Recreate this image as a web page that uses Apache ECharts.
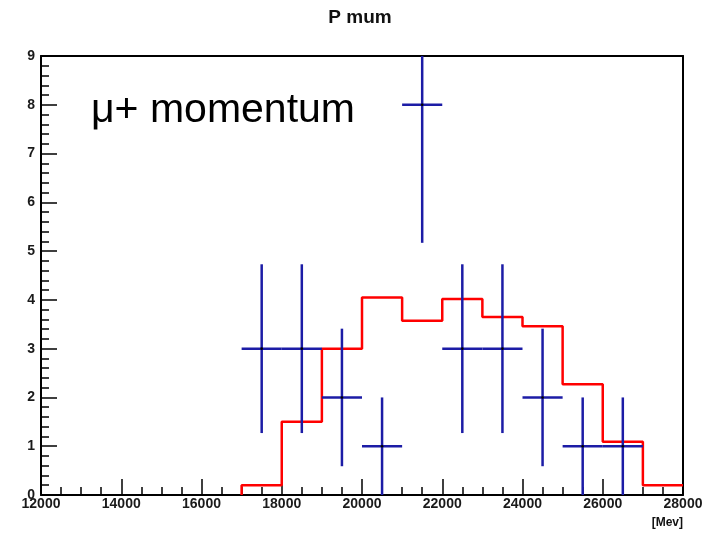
<!DOCTYPE html>
<html>
<head>
<meta charset="utf-8">
<script src="https://cdn.jsdelivr.net/npm/echarts@6/dist/echarts.min.js"></script>
<style>
html,body{margin:0;padding:0;background:#fff;}
#main{width:712px;height:535px;}
</style>
</head>
<body>
<div id="main"></div>
<script>
// ---- data ----
var xTickLabels = [12000, 14000, 16000, 18000, 20000, 22000, 24000, 26000, 28000];
var yTickLabels = [0, 1, 2, 3, 4, 5, 6, 7, 8, 9];

// red histogram (MC), bins of 1000 starting at these low edges
var redBinLow = [17000, 18000, 19000, 20000, 21000, 22000, 23000, 24000, 25000, 26000, 27000];
var redValues = [0.2, 1.5, 3.0, 4.05, 3.57, 4.02, 3.65, 3.46, 2.27, 1.09, 0.2];
var redLastEdge = 28000;

// blue data points
var dataX    = [17500, 18500, 19500, 20500, 21500, 22500, 23500, 24500, 25500, 26500];
var dataY    = [3, 3, 2, 1, 8, 3, 3, 2, 1, 1];
var dataYErr = [1.73, 1.73, 1.41, 1.0, 2.83, 1.73, 1.73, 1.41, 1.0, 1.0];
var dataXErr = [500, 500, 500, 500, 500, 500, 500, 500, 500, 500];

// ---- build ----
var redPoints = [[redBinLow[0], 0]];
for (var i = 0; i < redBinLow.length; i++) redPoints.push([redBinLow[i], redValues[i]]);
redPoints.push([redLastEdge, redValues[redValues.length - 1]]);

var bluePoints = dataX.map(function (x, i) { return [x, dataY[i], dataXErr[i], dataYErr[i]]; });

var BLUE = '#1c1ca6';
var FONT = '"Liberation Sans", Arial, Helvetica, sans-serif';

var chart = echarts.init(document.getElementById('main'), null, {renderer: 'canvas'});
var option = {
  animation: false,
  backgroundColor: '#fff',
  grid: {left: 41, right: 29, top: 56, bottom: 40, containLabel: false},
  xAxis: [{
    type: 'value', min: xTickLabels[0], max: xTickLabels[xTickLabels.length - 1], interval: 2000,
    position: 'bottom',
    axisLine: {show: true, lineStyle: {color: '#000', width: 2}},
    axisTick: {show: true, inside: true, length: 16, lineStyle: {color: '#000', width: 1.5}},
    minorTick: {show: true, splitNumber: 4, length: 8, lineStyle: {color: '#000', width: 1.5}},
    splitLine: {show: false},
    axisLabel: {show: true, margin: 2, color: '#1a1a1a', fontSize: 14, fontWeight: 'bold', fontFamily: FONT,
      formatter: function (v) { return String(v); }}
  }, {
    type: 'value', min: 12000, max: 28000, position: 'top',
    axisLine: {show: true, onZero: false, lineStyle: {color: '#000', width: 2}},
    axisTick: {show: false}, axisLabel: {show: false}, splitLine: {show: false}
  }],
  yAxis: [{
    type: 'value', min: yTickLabels[0], max: yTickLabels[yTickLabels.length - 1], interval: 1,
    position: 'left',
    axisLine: {show: true, lineStyle: {color: '#000', width: 2}},
    axisTick: {show: true, inside: true, length: 16, lineStyle: {color: '#000', width: 1.5}},
    minorTick: {show: true, splitNumber: 5, length: 8, lineStyle: {color: '#000', width: 1.5}},
    splitLine: {show: false},
    axisLabel: {show: true, margin: 6, color: '#1a1a1a', fontSize: 14, fontWeight: 'bold', fontFamily: FONT}
  }, {
    type: 'value', min: 0, max: 9, position: 'right',
    axisLine: {show: true, onZero: false, lineStyle: {color: '#000', width: 2}},
    axisTick: {show: false}, axisLabel: {show: false}, splitLine: {show: false}
  }],
  series: [{
    type: 'line', xAxisIndex: 0, yAxisIndex: 0,
    data: redPoints, step: 'end', showSymbol: false, symbol: 'none',
    lineStyle: {color: '#ff0000', width: 2.5}, z: 3
  }, {
    type: 'custom', xAxisIndex: 0, yAxisIndex: 0, clip: true, z: 4,
    data: bluePoints,
    renderItem: function (params, api) {
      var x = api.value(0), y = api.value(1), ex = api.value(2), ey = api.value(3);
      var cs = params.coordSys;
      var l = api.coord([x - ex, y]), r = api.coord([x + ex, y]);
      var lo = api.coord([x, Math.max(0, y - ey)]), hi = api.coord([x, y + ey]);
      var c = api.coord([x, y]);
      var topY = Math.max(hi[1], cs.y);
      var st = {stroke: BLUE, lineWidth: 2.5};
      return {type: 'group', children: [
        {type: 'line', shape: {x1: l[0], y1: l[1], x2: r[0], y2: r[1]}, style: st},
        {type: 'line', shape: {x1: c[0], y1: lo[1], x2: c[0], y2: topY}, style: st},
        {type: 'circle', shape: {cx: c[0], cy: c[1], r: 1.3}, style: {fill: '#000'}}
      ]};
    }
  }],
  graphic: [
    {type: 'text', x: 360, y: 18, style: {text: 'P mum', fill: '#111', font: 'bold 19px ' + FONT, align: 'center', verticalAlign: 'middle'}},
    {type: 'text', x: 91, y: 111, style: {text: 'μ+ momentum', fill: '#000', font: '41px ' + FONT, align: 'left', verticalAlign: 'middle'}},
    {type: 'text', x: 683, y: 523, style: {text: '[Mev]', fill: '#111', font: 'bold 12px ' + FONT, align: 'right', verticalAlign: 'middle'}}
  ]
};
chart.setOption(option);
</script>
</body>
</html>
